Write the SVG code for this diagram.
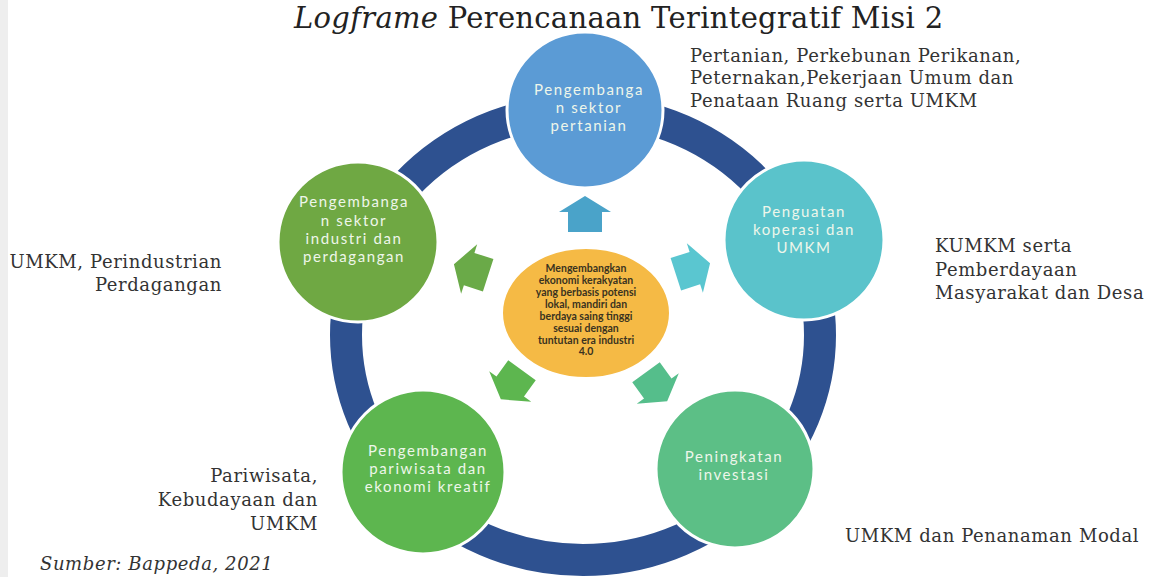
<svg xmlns="http://www.w3.org/2000/svg" width="1152" height="577" viewBox="0 0 1152 577">
<style>
.lbl{font-family:"DejaVu Serif","Liberation Serif",serif;font-size:18px;letter-spacing:0.6px;fill:#333}
.nt{font-family:Lato,"Open Sans",sans-serif;font-size:15px;fill:#eef6ea;text-anchor:middle;letter-spacing:1.6px}
.ct{font-family:Lato,"Open Sans",sans-serif;font-size:10.5px;font-weight:bold;fill:#3a3320;text-anchor:middle}
.node{stroke:#fff;stroke-width:3}
</style>
<defs>
<path id="arr" d="M0,-19 L26,-3 L17,-3 L17,17 L-17,17 L-17,-3 L-26,-3 Z"/>
</defs>
<rect width="1152" height="577" fill="#fff"/>
<rect x="0" y="0" width="8" height="577" fill="#eeeeee"/>
<text x="294" y="28" font-family="DejaVu Serif,Liberation Serif,serif" font-size="29" letter-spacing="0.3" fill="#222"><tspan font-style="italic">Logframe</tspan> Perencanaan Terintegratif Misi 2</text>
<g id="connectors">
<ellipse cx="583" cy="335" rx="237" ry="225" fill="none" stroke="#2E5190" stroke-width="32"/>
<use href="#arr" transform="translate(585,215)" fill="#4AA3C9"/>
<use href="#arr" transform="translate(692,269) rotate(72)" fill="#5AC6D0"/>
<use href="#arr" transform="translate(656,386) rotate(144)" fill="#55BE8B"/>
<use href="#arr" transform="translate(512,384) rotate(-144)" fill="#5DB64F"/>
<use href="#arr" transform="translate(472,270) rotate(-72)" fill="#6AAA48"/>
</g>
<g id="n-top">
<circle class="node" cx="585" cy="110" r="78" fill="#5B9BD5"/>
<text class="nt" x="589" y="95">Pengembanga</text>
<text class="nt" x="589" y="113">n sektor</text>
<text class="nt" x="589" y="131">pertanian</text>
</g>
<g id="n-right">
<circle class="node" cx="804" cy="240" r="80" fill="#5AC3CB"/>
<text class="nt" x="804" y="217">Penguatan</text>
<text class="nt" x="804" y="235">koperasi dan</text>
<text class="nt" x="804" y="253">UMKM</text>
</g>
<g id="n-bright">
<circle class="node" cx="735" cy="469" r="79" fill="#5CBF86"/>
<text class="nt" x="734" y="462">Peningkatan</text>
<text class="nt" x="734" y="480">investasi</text>
</g>
<g id="n-bleft">
<circle class="node" cx="423" cy="472" r="82" fill="#5DB64F"/>
<text class="nt" x="428" y="456">Pengembangan</text>
<text class="nt" x="428" y="474">pariwisata dan</text>
<text class="nt" x="428" y="492">ekonomi kreatif</text>
</g>
<g id="n-left">
<circle class="node" cx="358" cy="242" r="80" fill="#6FA843"/>
<text class="nt" x="354" y="207">Pengembanga</text>
<text class="nt" x="354" y="226">n sektor</text>
<text class="nt" x="354" y="244">industri dan</text>
<text class="nt" x="354" y="262">perdagangan</text>
</g>
<g id="n-center">
<ellipse cx="586" cy="313" rx="84" ry="65" fill="#F5BA45" stroke="#fff" stroke-width="2"/>
<text class="ct" x="586" y="272">Mengembangkan</text>
<text class="ct" x="586" y="284">ekonomi kerakyatan</text>
<text class="ct" x="586" y="296">yang berbasis potensi</text>
<text class="ct" x="586" y="308">lokal, mandiri dan</text>
<text class="ct" x="586" y="320">berdaya saing tinggi</text>
<text class="ct" x="586" y="332">sesuai dengan</text>
<text class="ct" x="586" y="344">tuntutan era industri</text>
<text class="ct" x="586" y="355">4.0</text>
</g>
<g id="labels">
<text class="lbl" x="690" y="62">Pertanian, Perkebunan Perikanan,</text>
<text class="lbl" x="690" y="84">Peternakan,Pekerjaan Umum dan</text>
<text class="lbl" x="690" y="107">Penataan Ruang serta UMKM</text>
<text class="lbl" x="935" y="252">KUMKM serta</text>
<text class="lbl" x="935" y="276">Pemberdayaan</text>
<text class="lbl" x="935" y="299">Masyarakat dan Desa</text>
<text class="lbl" x="222" y="268" text-anchor="end">UMKM, Perindustrian</text>
<text class="lbl" x="222" y="291" text-anchor="end">Perdagangan</text>
<text class="lbl" x="318" y="482" text-anchor="end">Pariwisata,</text>
<text class="lbl" x="318" y="506" text-anchor="end">Kebudayaan dan</text>
<text class="lbl" x="318" y="530" text-anchor="end">UMKM</text>
<text class="lbl" x="845" y="542">UMKM dan Penanaman Modal</text>
<text class="lbl" x="40" y="570" font-style="italic" font-size="17">Sumber: Bappeda, 2021</text>
</g>
</svg>
